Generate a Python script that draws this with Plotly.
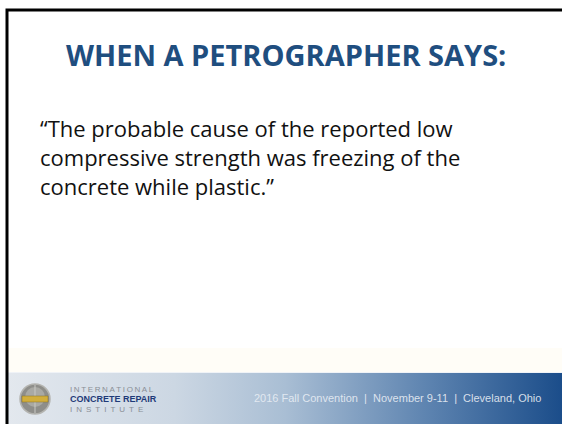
import plotly.graph_objects as go

W, H = 562, 424

title_text = "WHEN A PETROGRAPHER SAYS:"
body_lines = [
    "“The probable cause of the reported low",
    "compressive strength was freezing of the",
    "concrete while plastic.”",
]
body_y = [128, 157, 186]
TS = "\u2009"
EN = "\u2002"
logo_lines = [TS.join("INTERNATIONAL"), "CONCRETE REPAIR", EN.join("INSTITUTE")]
logo_y = [389, 399, 409]
footer_text = "2016 Fall Convention  |  November 9-11  |  Cleveland, Ohio"

fig = go.Figure()

# footer band with horizontal gradient
fig.add_trace(go.Scatter(
    x=[8, 562, 562, 8, 8], y=[372, 372, 424, 424, 372],
    fill="toself", mode="none",
    fillgradient=dict(type="horizontal",
                      colorscale=[[0, "#e3e8ee"], [0.3, "#ccd7e3"], [0.5, "#a9bed4"],
                                  [0.75, "#5f85b1"], [1, "#1b4d8a"]]),
    hoverinfo="skip", showlegend=False))

shapes = []
shapes.append(dict(type="rect", x0=8, x1=562, y0=348, y1=372, line_width=0,
                   fillcolor="#fffdf7", layer="below"))
shapes.append(dict(type="line", x0=8, x1=562, y0=372.5, y1=372.5,
                   line=dict(color="#f0f3f7", width=1)))
shapes.append(dict(type="path", path="M 7,424 L 7,10 L 562,10",
                   line=dict(color="#000000", width=3)))
# logo sphere
shapes.append(dict(type="circle", x0=20, x1=50, y0=384, y1=414,
                   fillcolor="#8e8e8a", line=dict(color="#b4b4b0", width=1.5)))
shapes.append(dict(type="circle", x0=25, x1=45, y0=387, y1=407,
                   fillcolor="rgba(195,195,190,0.5)", line_width=0))
shapes.append(dict(type="line", x0=35, x1=35, y0=385, y1=413,
                   line=dict(color="#c8c8c4", width=1)))
shapes.append(dict(type="rect", x0=22, x1=48, y0=396, y1=402,
                   fillcolor="#d2ae3c", line=dict(color="#8a7020", width=0.5)))

annotations = []
annotations.append(dict(x=286, y=54, text="<b>" + title_text + "</b>", showarrow=False,
                        xanchor="center", yanchor="middle",
                        font=dict(family="Open Sans", size=29, color="#1f4e7f")))
for t, yy in zip(body_lines, body_y):
    annotations.append(dict(x=38, y=yy, text=t, showarrow=False, xanchor="left",
                            yanchor="middle",
                            font=dict(family="Open Sans", size=22, color="#111111")))
logo_fonts = [
    dict(family="Liberation Sans", size=8, color="#8a8f96"),
    dict(family="Liberation Sans", size=9, color="#1f3a78"),
    dict(family="Liberation Sans", size=8, color="#8a8f96"),
]
for t, yy, f in zip(logo_lines, logo_y, logo_fonts):
    txt = "<b>" + t + "</b>" if t.startswith("CONCRETE") else t
    annotations.append(dict(x=68, y=yy, text=txt, showarrow=False, xanchor="left",
                            yanchor="middle", font=f))
annotations.append(dict(x=543, y=398, text=footer_text, showarrow=False, xanchor="right",
                        yanchor="middle",
                        font=dict(family="Liberation Sans", size=11,
                                  color="rgba(232,237,244,0.9)")))

fig.update_layout(
    width=W, height=H, margin=dict(l=0, r=0, t=0, b=0),
    paper_bgcolor="white", plot_bgcolor="white",
    xaxis=dict(range=[0, W], visible=False, fixedrange=True),
    yaxis=dict(range=[H, 0], visible=False, fixedrange=True),
    shapes=shapes, annotations=annotations, showlegend=False,
)

fig.write_html("out.html", config={"displayModeBar": False},
               post_script="document.body.style.margin='0';document.body.style.overflow='hidden';")
